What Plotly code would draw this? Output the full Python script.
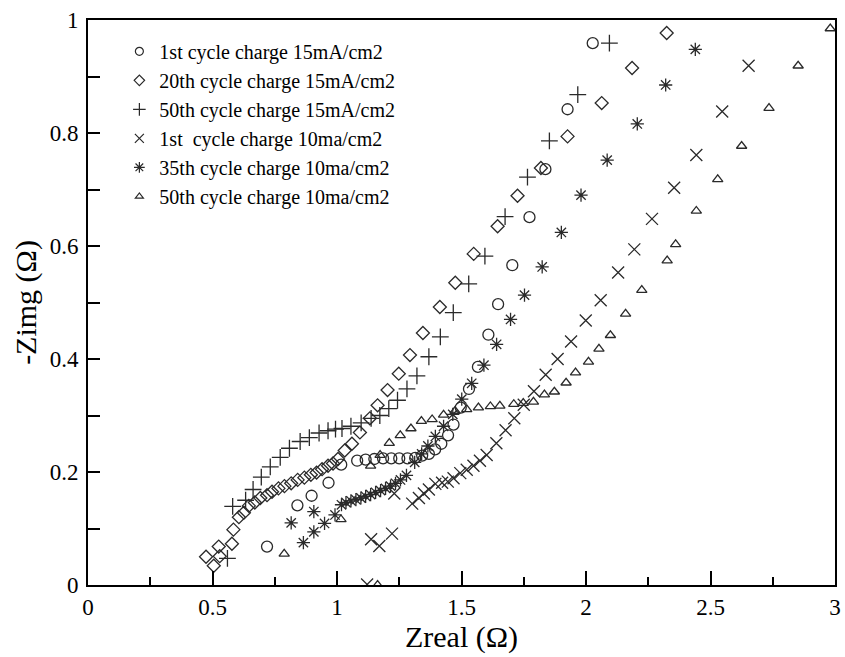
import plotly.graph_objects as go

# ---- data ----
c1_x = [0.719, 0.841, 0.898, 0.966, 1.017, 1.081, 1.115, 1.150, 1.185, 1.218, 1.250, 1.283, 1.314,
        1.342, 1.369, 1.394, 1.419, 1.446, 1.468, 1.497, 1.530, 1.566, 1.608, 1.647, 1.704, 1.773,
        1.837, 1.926, 2.027]
c1_y = [0.068, 0.141, 0.158, 0.181, 0.213, 0.220, 0.222, 0.223, 0.224, 0.224, 0.224, 0.224, 0.225,
        0.229, 0.232, 0.240, 0.250, 0.265, 0.284, 0.314, 0.347, 0.386, 0.443, 0.497, 0.566, 0.651,
        0.736, 0.842, 0.959]

d20_x = [0.474, 0.505, 0.529, 0.525, 0.578, 0.584, 0.606, 0.626, 0.646, 0.670, 0.692, 0.719, 0.739,
         0.765, 0.789, 0.816, 0.842, 0.869, 0.895, 0.918, 0.940, 0.964, 0.984, 1.004, 1.031, 1.060,
         1.092, 1.132, 1.163, 1.203, 1.248, 1.293, 1.345, 1.413, 1.475, 1.549, 1.645, 1.725, 1.819,
         1.926, 2.063, 2.185, 2.324]
d20_y = [0.050, 0.034, 0.051, 0.068, 0.073, 0.098, 0.120, 0.128, 0.140, 0.146, 0.154, 0.159, 0.165,
         0.171, 0.175, 0.180, 0.186, 0.190, 0.195, 0.199, 0.205, 0.211, 0.215, 0.223, 0.238, 0.250,
         0.270, 0.295, 0.318, 0.345, 0.374, 0.407, 0.446, 0.492, 0.535, 0.586, 0.635, 0.689, 0.738,
         0.794, 0.853, 0.915, 0.977]

p50_x = [0.560, 0.581, 0.633, 0.663, 0.696, 0.732, 0.772, 0.809, 0.852, 0.889, 0.928, 0.964, 0.994,
         1.020, 1.056, 1.097, 1.137, 1.172, 1.208, 1.243, 1.281, 1.321, 1.369, 1.415, 1.467, 1.529,
         1.594, 1.675, 1.765, 1.853, 1.967, 2.094]
p50_y = [0.047, 0.139, 0.150, 0.169, 0.191, 0.209, 0.226, 0.242, 0.254, 0.261, 0.269, 0.273, 0.276,
         0.277, 0.281, 0.287, 0.295, 0.300, 0.312, 0.327, 0.347, 0.370, 0.404, 0.439, 0.482, 0.533,
         0.582, 0.652, 0.722, 0.786, 0.868, 0.959]

x1_x = [1.121, 1.137, 1.170, 1.221, 1.230, 1.302, 1.329, 1.349, 1.369, 1.395, 1.422, 1.445, 1.468,
        1.495, 1.521, 1.548, 1.574, 1.601, 1.640, 1.677, 1.712, 1.750, 1.791, 1.838, 1.886, 1.940,
        1.999, 2.059, 2.129, 2.194, 2.265, 2.354, 2.443, 2.547, 2.653]
x1_y = [0.001, 0.081, 0.069, 0.091, 0.162, 0.144, 0.154, 0.162, 0.169, 0.179, 0.181, 0.183, 0.189,
        0.198, 0.204, 0.211, 0.220, 0.230, 0.251, 0.274, 0.295, 0.319, 0.343, 0.372, 0.400, 0.431,
        0.468, 0.504, 0.553, 0.594, 0.648, 0.703, 0.761, 0.838, 0.919]

a35_x = [0.865, 0.816, 0.907, 0.907, 0.950, 0.992, 1.018, 1.036, 1.056, 1.076, 1.096, 1.115, 1.135,
         1.155, 1.175, 1.195, 1.215, 1.235, 1.255, 1.279, 1.312, 1.340, 1.365, 1.395, 1.428, 1.465,
         1.501, 1.541, 1.590, 1.641, 1.697, 1.753, 1.824, 1.901, 1.980, 2.085, 2.206, 2.320, 2.439]
a35_y = [0.075, 0.110, 0.094, 0.130, 0.109, 0.124, 0.142, 0.146, 0.149, 0.151, 0.154, 0.157, 0.160,
         0.164, 0.167, 0.171, 0.175, 0.180, 0.186, 0.194, 0.217, 0.232, 0.246, 0.263, 0.281, 0.302,
         0.329, 0.357, 0.389, 0.426, 0.470, 0.513, 0.563, 0.624, 0.690, 0.752, 0.816, 0.885, 0.948]

t50_x = [0.788, 1.016, 1.163, 1.135, 1.173, 1.210, 1.254, 1.297, 1.339, 1.382, 1.428, 1.474, 1.521,
         1.568, 1.616, 1.654, 1.710, 1.748, 1.789, 1.833, 1.873, 1.920, 1.958, 2.010, 2.052, 2.098,
         2.159, 2.224, 2.326, 2.360, 2.443, 2.529, 2.625, 2.735, 2.852, 2.981]
t50_y = [0.055, 0.116, 0.000, 0.211, 0.230, 0.251, 0.265, 0.277, 0.290, 0.293, 0.301, 0.308, 0.311,
         0.314, 0.316, 0.317, 0.320, 0.322, 0.324, 0.337, 0.342, 0.358, 0.376, 0.395, 0.418, 0.442,
         0.480, 0.522, 0.574, 0.603, 0.662, 0.718, 0.777, 0.844, 0.919, 0.985]

series_names = ["1st cycle charge 15mA/cm2", "20th cycle charge 15mA/cm2", "50th cycle charge 15mA/cm2",
                "1st  cycle charge 10ma/cm2", "35th cycle charge 10ma/cm2", "50th cycle charge 10ma/cm2"]
series_x = [c1_x, d20_x, p50_x, x1_x, a35_x, t50_x]
series_y = [c1_y, d20_y, p50_y, x1_y, a35_y, t50_y]
symbols = ["circle-open", "diamond-open", "cross-thin-open", "x-thin-open", "asterisk-open", "triangle-up-open"]
sizes = [11, 10, 12, 12, 11, 9]
legend_sizes = [8, 8, 9, 9, 9, 7]

x_tick_vals = [0, 0.5, 1, 1.5, 2, 2.5, 3]
x_tick_text = ["0", "0.5", "1", "1.5", "2", "2.5", "3"]
y_tick_vals = [0, 0.2, 0.4, 0.6, 0.8, 1]
y_tick_text = ["0", "0.2", "0.4", "0.6", "0.8", "1"]

FONT = "Liberation Serif, Times New Roman, serif"
MC = "#2a2a2a"

fig = go.Figure()
for i, (nm, xs, ys, sym, sz) in enumerate(zip(series_names, series_x, series_y, symbols, sizes)):
    fig.add_trace(go.Scatter(
        x=xs, y=ys, mode="markers", name=nm, legendgroup=f"g{i}", showlegend=False,
        marker=dict(symbol=sym, size=sz, color=MC, line=dict(color=MC, width=1.3)),
    ))
# legend entries (smaller symbols, as in the reference legend)
for i, (nm, sym, lsz) in enumerate(zip(series_names, symbols, legend_sizes)):
    fig.add_trace(go.Scatter(
        x=[None], y=[None], mode="markers", name=nm, legendgroup=f"g{i}", showlegend=True,
        marker=dict(symbol=sym, size=lsz, color=MC, line=dict(color=MC, width=1.2)),
    ))

axis_common = dict(
    showline=True, linecolor="black", linewidth=2, mirror=True,
    ticks="inside", tickcolor="black", tickwidth=2,
    showgrid=False, zeroline=False,
    tickfont=dict(family=FONT, size=23, color="black"),
)

fig.update_layout(
    width=845, height=657,
    margin=dict(l=88, r=4, t=20, b=72),
    paper_bgcolor="white", plot_bgcolor="white",
    font=dict(family=FONT, color="black"),
    showlegend=True,
    legend=dict(x=0.042, y=0.979, xanchor="left", yanchor="top",
                font=dict(family=FONT, size=20, color="black"),
                bgcolor="rgba(0,0,0,0)", borderwidth=0,
                itemsizing="trace", tracegroupgap=0),
    xaxis=dict(range=[0, 3], tickvals=x_tick_vals, ticktext=x_tick_text, ticklen=14,
               minor=dict(dtick=0.25, ticks="inside", ticklen=8, tickwidth=2, tickcolor="black"),
               title=dict(text="Zreal (Ω)", font=dict(family=FONT, size=30, color="black"), standoff=4),
               **axis_common),
    yaxis=dict(range=[0, 1], tickvals=y_tick_vals, ticktext=y_tick_text, ticklen=12,
               minor=dict(dtick=0.1, ticks="inside", ticklen=12, tickwidth=2, tickcolor="black"),
               title=dict(text="-Zimg (Ω)", font=dict(family=FONT, size=30, color="black"), standoff=4),
               ticklabelstandoff=3,
               **axis_common),
)

fig.write_html("out.html")
